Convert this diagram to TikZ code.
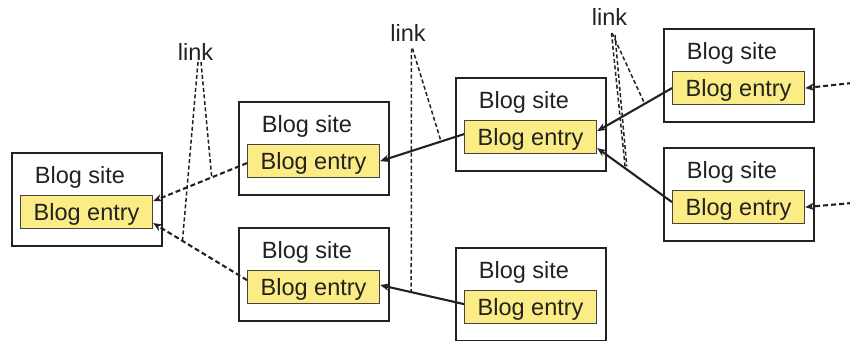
\documentclass[tikz,border=0pt]{standalone}
\usepackage{fontspec}
\setmainfont{Liberation Sans}
\usetikzlibrary{arrows.meta,calc}
\definecolor{ink}{HTML}{222222}
\definecolor{entryfill}{HTML}{FBEC85}
\newcommand\blogfont{\fontsize{23.5}{28}\selectfont}
% one blog site: frame #1, entry #1e, caption #1s; top-left corner at (#2,#3)
\newcommand\blogsite[3]{%
  \node[site] (#1) at (#2,#3) {};
  \node[entry] (#1e) at ($(#1.north west)+(9,43)$) {Blog entry};
  \node[sitelabel] (#1s) at ($(#1.north west)+(69,31)$) {Blog site};
}
\begin{document}
\begin{tikzpicture}[x=1pt,y=-1pt,
  site/.style={draw=ink, line width=2.1pt, fill=white, minimum width=150pt,
    minimum height=93pt, anchor=north west, inner sep=0pt},
  entry/.style={draw=ink!85, line width=1.2pt, fill=entryfill, minimum width=132pt,
    minimum height=33pt, anchor=north west, inner sep=0pt, font=\blogfont, text=ink,
    text height=19pt, text depth=2pt},
  sitelabel/.style={anchor=base, inner sep=0pt, font=\blogfont, text=ink},
  linklabel/.style={anchor=base, inner sep=0pt, font=\blogfont, text=ink},
  webref/.style={draw=ink, line width=2.1pt, -{Stealth[length=9pt,width=7.5pt]}},
  webdash/.style={webref, dash pattern=on 5pt off 3pt},
  linkline/.style={draw=ink, line width=1.5pt, dash pattern=on 4pt off 2.5pt},
]
\useasboundingbox (0,0) rectangle (850,340);

% sites
\blogsite{b1}{11}{152}
\blogsite{b2}{238}{101}
\blogsite{b3}{238}{227}
\blogsite{b4}{455}{77}
\blogsite{b5}{455}{247}
\blogsite{b6}{663}{28}
\blogsite{b7}{663}{147}

% labels
\node[linklabel] (link1) at (195.5,60) {link};
\node[linklabel] (link2) at (408,41.5) {link};
\node[linklabel] (link3) at (609.5,25) {link};

% references between entries
\draw[webdash] ([yshift=-2pt]b2e.west) -- coordinate[pos=0.376] (k1a) ([yshift=11pt]b1e.east);
\draw[webdash] ([yshift=7pt]b3e.west) -- coordinate[pos=0.688] (k1b) ([yshift=-11pt]b1e.east);
\draw[webref] ([yshift=3pt]b4e.west) -- coordinate[pos=0.274] (k2a) (b2e.east);
\draw[webref] ([yshift=3pt]b5e.west) -- coordinate[pos=0.63] (k2b) ([yshift=2pt]b3e.east);
\draw[webref] (b6e.west) -- coordinate[pos=0.365] (k3a) ([yshift=6pt]b4e.east);
\draw[webref] ([yshift=5pt]b7e.west) -- coordinate[pos=0.625] (k3b) ([yshift=-11pt]b4e.east);

% incoming references from off the page
\coordinate (in6) at (852,83);
\coordinate (in7) at (852,203);
\draw[webdash] (in6) -- (b6e.east);
\draw[webdash] (in7) -- (b7e.east);

% callout lines from the labels
\draw[linkline] ($(link1.base)+(2.5,2)$) -- (k1b);
\draw[linkline] ($(link1.base)+(5.5,2)$) -- (k1a);
\draw[linkline] ($(link2.base)+(3.5,7)$) -- (k2b);
\draw[linkline] ($(link2.base)+(4.5,7)$) -- (k2a);
\draw[linkline] ($(link3.base)+(2,8)$) -- (k3b);
\draw[linkline] ($(link3.base)+(5.5,10)$) -- ($(k3b)+(1.5,-2)$);
\draw[linkline] ($(link3.base)+(2.5,8)$) -- (k3a);
\end{tikzpicture}
\end{document}
